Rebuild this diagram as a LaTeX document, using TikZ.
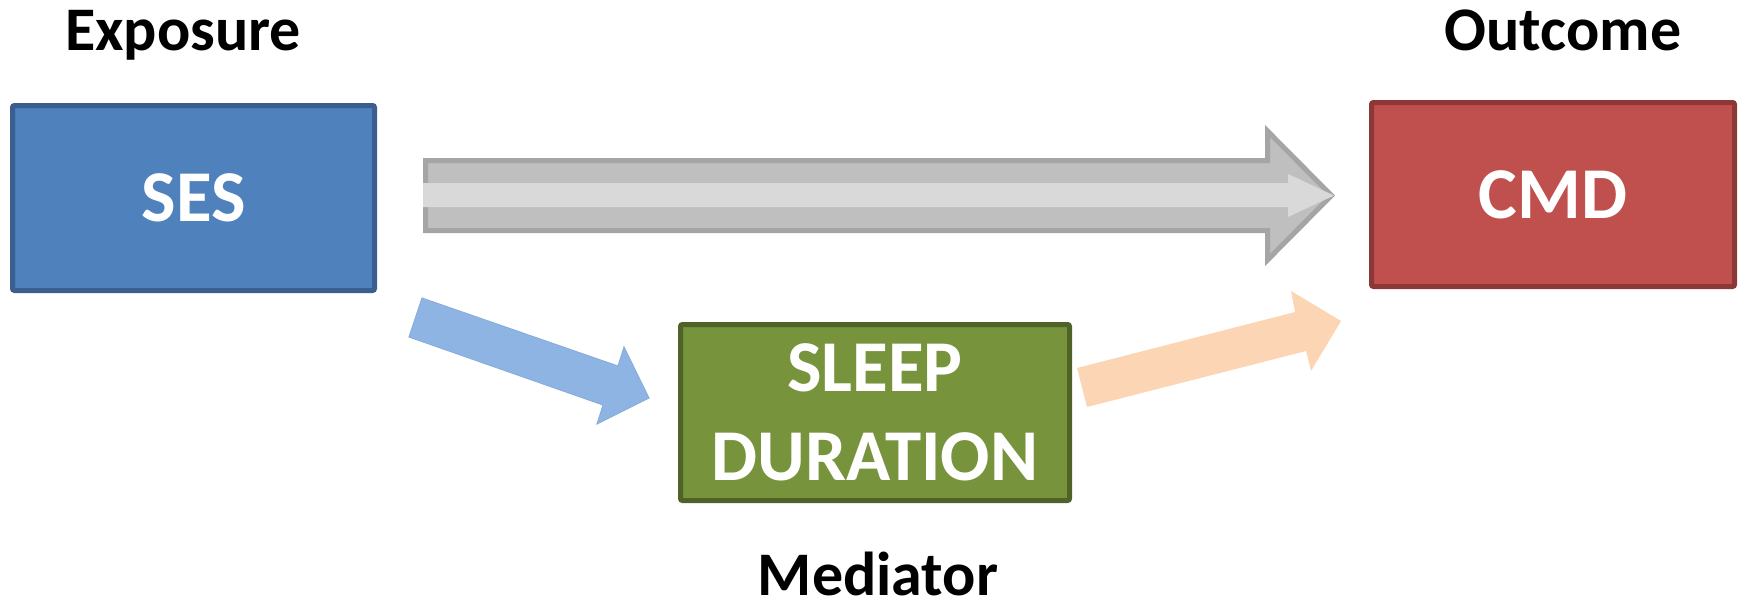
\documentclass[tikz,border=0pt]{standalone}
\usepackage{fontspec}
\setmainfont{Carlito}
\definecolor{sesfill}{HTML}{4F81BD}
\definecolor{sesline}{HTML}{3A5F8E}
\definecolor{cmdfill}{HTML}{C0504D}
\definecolor{cmdline}{HTML}{8C3836}
\definecolor{slpfill}{HTML}{77933C}
\definecolor{slpline}{HTML}{4F6228}
\definecolor{grayline}{HTML}{A5A5A5}
\definecolor{grayfill}{HTML}{BFBFBF}
\definecolor{graylight}{HTML}{D9D9D9}
\definecolor{bluearrow}{HTML}{8EB4E3}
\definecolor{bluearrowline}{HTML}{89AEDB}
\definecolor{peach}{HTML}{FCD5B5}
\tikzset{
  varbox/.style={draw, line width=5pt, rounded corners=2pt, text=white,
    font=\fontsize{73}{89}\selectfont\bfseries, align=center, inner sep=0pt},
  rolelabel/.style={anchor=base, inner sep=0pt, font=\fontsize{62}{74}\selectfont\bfseries},
}
\begin{document}
\begin{tikzpicture}[x=1pt,y=-1pt]
\useasboundingbox (0,0) rectangle (1742,606);
% boxes
\node[varbox, fill=sesfill, draw=sesline, minimum width=362pt, minimum height=185pt] (ses) at (193.5,198) {SES};
\node[varbox, fill=cmdfill, draw=cmdline, minimum width=363pt, minimum height=184pt] (cmd) at (1553,194.5) {CMD};
\node[varbox, fill=slpfill, draw=slpline, minimum width=389pt, minimum height=176pt] (slp) at (875,412.5) {SLEEP\\DURATION};
% labels
\node[rolelabel] (lexp) at (183,50) {Exposure};
\node[rolelabel] (lout) at (1563,50) {Outcome};
\node[rolelabel] (lmed) at (878,595) {Mediator};
% direct effect arrow (ses -> cmd)
\coordinate (gtail) at (425.5,195.5);
\coordinate (gtip) at (1331.5,195.5);
\draw[draw=grayline, fill=grayfill, line width=5pt, line join=miter]
  (425.5,160.5) -- (1267.5,160.5) -- (1267.5,131) -- (gtip) -- (1267.5,260) -- (1267.5,230.5) -- (425.5,230.5) -- cycle;
\fill[graylight] (423,183) -- (1288,183) -- (1288,174) -- (1334,195.5) -- (1288,217) -- (1288,207) -- (423,207) -- cycle;
% ses -> sleep arrow
\draw[fill=bluearrow, draw=bluearrowline, line width=1pt]
  (422,298) -- (618,366) -- (624,347) -- (649,398) -- (597,424) -- (603,405) -- (409,337) -- cycle;
% sleep -> cmd arrow
\fill[peach]
  (1077,368) -- (1295,312) -- (1291,291) -- (1341,321) -- (1311,371) -- (1306,351) -- (1087,407) -- cycle;
\end{tikzpicture}
\end{document}
